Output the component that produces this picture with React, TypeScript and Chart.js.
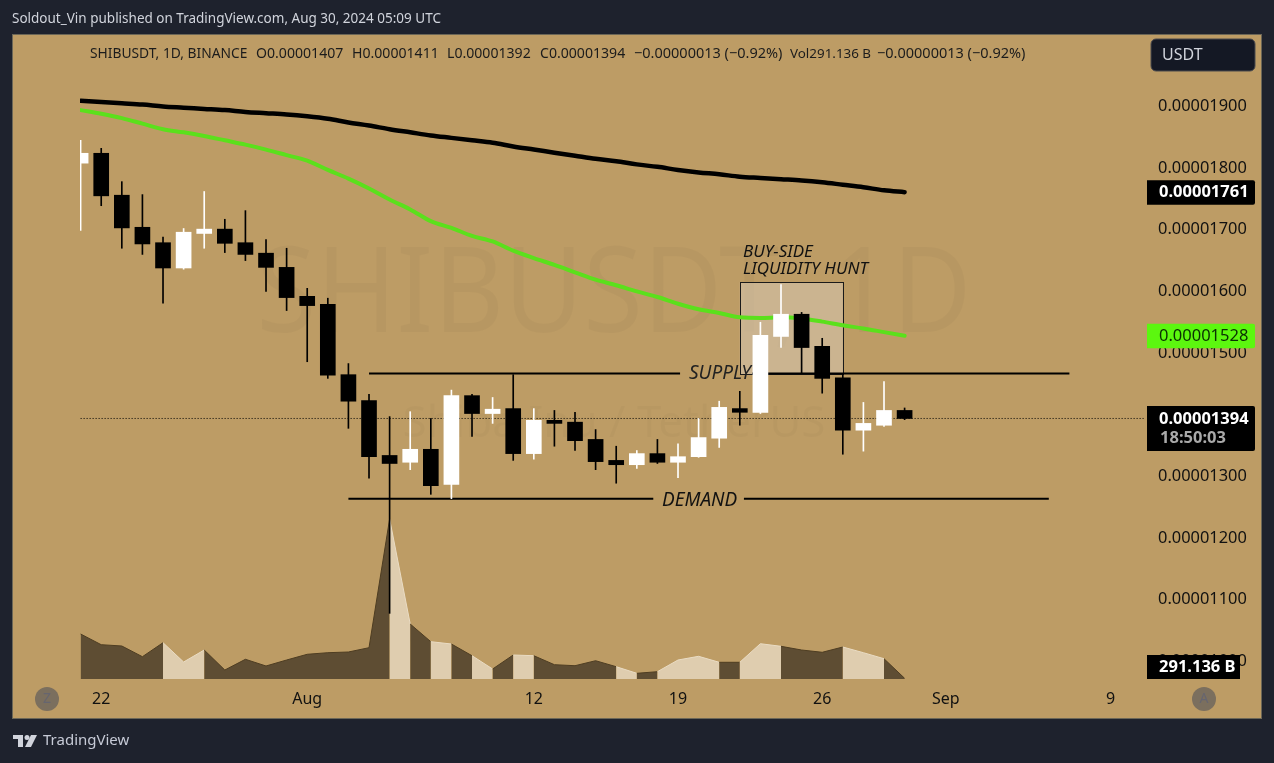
import React, { useEffect, useRef } from "react";
import { Chart, registerables } from "chart.js";

Chart.register(...registerables);

// prices are in units of 0.00000001 USDT
const opens = [1808,1824,1756,1704,1679,1638,1694,1701,1679,1662,1639,1592,1579,1465,1423,1334,1323,1344,1287,1431,1402,1410,1337,1391,1388,1360,1326,1319,1337,1323,1332,1362,1410,1404,1527,1563,1511,1460,1375,1383,1407];
const highs = [1845,1832,1778,1757,1688,1702,1762,1717,1731,1684,1670,1605,1589,1483,1433,1397,1405,1394,1440,1433,1428,1465,1410,1407,1404,1376,1349,1342,1360,1353,1394,1422,1438,1550,1611,1566,1524,1467,1420,1454,1411];
const lows = [1699,1739,1670,1660,1581,1636,1670,1663,1650,1600,1569,1486,1459,1378,1297,1078,1311,1271,1264,1365,1386,1326,1328,1349,1342,1311,1289,1313,1321,1298,1331,1347,1383,1402,1509,1467,1435,1336,1341,1381,1392];
const closes = [1824,1755,1703,1677,1638,1696,1701,1678,1660,1639,1590,1577,1464,1422,1332,1321,1344,1285,1431,1402,1409,1337,1391,1386,1358,1324,1319,1337,1323,1332,1363,1412,1404,1529,1563,1509,1459,1375,1386,1407,1394];
const ma200 = [1909,1907,1905,1903,1900,1898,1896,1894,1891,1889,1887,1884,1880,1874,1869,1863,1858,1853,1849,1845,1841,1835,1830,1825,1820,1815,1811,1806,1802,1797,1793,1790,1786,1784,1782,1780,1777,1773,1769,1764,1761];
const ma100 = [1894,1888,1881,1872,1863,1858,1852,1845,1838,1830,1821,1812,1797,1783,1767,1749,1733,1714,1703,1690,1681,1666,1654,1643,1631,1619,1610,1600,1591,1580,1571,1565,1558,1557,1558,1556,1551,1545,1540,1534,1528];
// volume in billions
const volumes = [18720,14270,13730,9280,15100,7070,12060,3740,8200,5410,7900,10280,10940,11230,13020,66560,22880,15520,14560,9690,4160,9980,9690,5950,5530,7610,5120,2370,3040,7900,9440,6950,6950,14680,13600,12060,11110,13310,10940,8440,291];

const priceTicks = [1900,1800,1700,1600,1500,1400,1300,1200,1100,1000];
const dateTickDays = [1,11,22,29,36,42,50];
const dateTickLabels = ["22","Aug","12","19","26","Sep","9"];

const lastPrice = 1394;
const supplyLevel = 1467;
const demandLevel = 1264;
const supplySpans = [[14,29.1],[32.6,48]];
const demandSpans = [[13,27.8],[32.2,47]];
const huntBox = { from: 32, to: 37, high: 1615, low: 1466 };

const titleText = "Soldout_Vin published on TradingView.com, Aug 30, 2024 05:09 UTC";
const legendParts: [string, number, number][] = [
  ["SHIBUSDT, 1D, BINANCE", 90, 13.8],
  ["O0.00001407", 256, 14.1],
  ["H0.00001411", 352, 14.1],
  ["L0.00001392", 447, 14.1],
  ["C0.00001394", 540, 14.1],
  ["−0.00000013 (−0.92%)", 634, 14.5],
  ["Vol291.136 B", 790, 13.4],
  ["−0.00000013 (−0.92%)", 877, 14.5],
];

const FONT = '"Noto Sans", sans-serif';
const FRAME = "#1e222d";
const PANEL = "#bd9c65";
const UP = "#ffffff";
const DOWN = "#000000";
const VOL_UP = "#dfcdaf";
const VOL_DOWN = "#5e4d33";

const isUp = (i: number) => closes[i] >= opens[i];
const fmt = (v: number) => (v / 1e8).toFixed(8);

function text(ctx: CanvasRenderingContext2D, s: string, x: number, y: number, font: string, color: string, align: CanvasTextAlign = "left") {
  ctx.font = font;
  ctx.fillStyle = color;
  ctx.textAlign = align;
  ctx.textBaseline = "middle";
  ctx.fillText(s, x, y);
}

const lineSet = (spans: number[], level: number) => ({
  type: "line" as const,
  data: [{ x: spans[0], y: level }, { x: spans[1], y: level }],
  borderColor: "#000",
  borderWidth: 2,
  pointRadius: 0,
  yAxisID: "y",
  order: 5,
});

const decor = {
  id: "decor",
  beforeDraw(chart: any) {
    const ctx: CanvasRenderingContext2D = chart.ctx;
    ctx.save();
    ctx.fillStyle = FRAME;
    ctx.fillRect(0, 0, 1274, 763);
    ctx.fillStyle = PANEL;
    ctx.fillRect(13, 35, 1248, 683);
    ctx.strokeStyle = "#6b6657";
    ctx.lineWidth = 1;
    ctx.strokeRect(12.5, 34.5, 1249, 684);
    ctx.save();
    ctx.translate(614, 298);
    ctx.scale(0.92, 1);
    text(ctx, "SHIBUSDT, 1D", 0, 0, `118px ${FONT}`, "rgba(0,0,0,0.028)", "center");
    ctx.restore();
    text(ctx, "Shiba Inu / TetherUS", 614, 424, `44px ${FONT}`, "rgba(0,0,0,0.022)", "center");
    ctx.restore();
  },
  beforeDatasetsDraw(chart: any) {
    const ctx: CanvasRenderingContext2D = chart.ctx;
    const { x, y } = chart.scales;
    const l = x.getPixelForValue(huntBox.from);
    const r = x.getPixelForValue(huntBox.to);
    const t = y.getPixelForValue(huntBox.high);
    const b = y.getPixelForValue(huntBox.low);
    ctx.save();
    ctx.fillStyle = "rgba(215,200,180,0.55)";
    ctx.fillRect(l, t, r - l, b - t);
    ctx.strokeStyle = "#1a1a1a";
    ctx.lineWidth = 1;
    ctx.strokeRect(Math.round(l) + 0.5, Math.round(t) + 0.5, Math.round(r - l), Math.round(b - t));
    const italic = `italic 17px ${FONT}`;
    text(ctx, "BUY-SIDE", 743, 252, italic, "#111");
    text(ctx, "LIQUIDITY HUNT", 743, 269, italic, "#111");
    const big = `italic 19px ${FONT}`;
    text(ctx, "SUPPLY", 689, 373.5, big, "#222");
    text(ctx, "DEMAND", 662, 500.5, big, "#111");
    ctx.restore();
  },
  afterDraw(chart: any) {
    const ctx: CanvasRenderingContext2D = chart.ctx;
    const y = chart.scales.y;
    const tagFont = `bold 16.5px ${FONT}`;
    ctx.save();

    // header texts
    text(ctx, titleText, 12, 19, `13.5px ${FONT}`, "#d1d4dc");
    legendParts.forEach(([s, px, size]) => text(ctx, s, px, 54, `${size}px ${FONT}`, "#1c1c1c"));

    // currency button
    ctx.beginPath();
    ctx.roundRect(1151, 39, 104, 32, 5);
    ctx.fillStyle = "#141824";
    ctx.fill();
    ctx.strokeStyle = "#4a4a4f";
    ctx.stroke();
    text(ctx, "USDT", 1162, 55, `16px ${FONT}`, "#d1d4dc");

    // price tags
    const tag = (value: number, fill: string, color: string, label: string, font: string) => {
      const c = y.getPixelForValue(value);
      ctx.beginPath();
      ctx.roundRect(1147, c - 12, 108, 24.5, [0, 2, 2, 0]);
      ctx.fillStyle = fill;
      ctx.fill();
      text(ctx, label, 1159, c + 0.5, font, color);
    };
    tag(ma200[ma200.length - 1], "#000", "#fff", fmt(ma200[ma200.length - 1]), tagFont);
    tag(ma100[ma100.length - 1], "#5cf70f", "#0a3003", fmt(ma100[ma100.length - 1]), `16.5px ${FONT}`);

    const c = y.getPixelForValue(lastPrice);
    ctx.beginPath();
    ctx.roundRect(1147, c - 12.5, 108, 45, [0, 2, 2, 0]);
    ctx.fillStyle = "#000";
    ctx.fill();
    text(ctx, fmt(lastPrice), 1159, c + 0.5, tagFont, "#fff");
    text(ctx, "18:50:03", 1160, c + 20, `bold 16.5px ${FONT}`, "#a9a9a9");

    ctx.fillStyle = "#000";
    ctx.fillRect(1147, 655, 93, 24);
    text(ctx, "291.136 B", 1159, 667, tagFont, "#fff");

    // scale buttons
    [["Z", 47], ["A", 1204]].forEach(([s, px]) => {
      ctx.beginPath();
      ctx.arc(px as number, 699, 12, 0, Math.PI * 2);
      ctx.fillStyle = "#7b6f5e";
      ctx.fill();
      text(ctx, s as string, px as number, 699.5, `14px ${FONT}`, "#66656f", "center");
    });

    // footer
    ctx.fillStyle = "#d1d4dc";
    ctx.fillRect(13, 735, 10, 4);
    ctx.fillRect(18, 735, 5, 12);
    ctx.beginPath();
    ctx.arc(27, 737.5, 2.5, 0, Math.PI * 2);
    ctx.fill();
    ctx.beginPath();
    ctx.moveTo(31, 735);
    ctx.lineTo(37, 735);
    ctx.lineTo(31, 747);
    ctx.lineTo(25, 747);
    ctx.closePath();
    ctx.fill();
    text(ctx, "TradingView", 43, 741, `15px ${FONT}`, "#c6cad6");
    ctx.restore();
  },
};

export default function App() {
  const ref = useRef<HTMLCanvasElement>(null);
  useEffect(() => {
    if (!ref.current) return;
    const days = opens.map((_, i) => i);
    const chart = new Chart(ref.current, {
      type: "bar",
      data: {
        datasets: [
          {
            type: "bar",
            data: days.map((i) => ({ x: i, y: [opens[i], closes[i]] })),
            backgroundColor: days.map((i) => (isUp(i) ? UP : DOWN)),
            barThickness: 15,
            grouped: false,
            borderWidth: 0,
            yAxisID: "y",
            order: 0,
          },
          {
            type: "bar",
            data: days.map((i) => ({ x: i, y: [lows[i], highs[i]] })),
            backgroundColor: days.map((i) => (isUp(i) ? UP : DOWN)),
            barThickness: 1,
            grouped: false,
            borderWidth: 0,
            yAxisID: "y",
            order: 1,
          },
          {
            type: "line",
            data: days.map((i) => ({ x: i, y: ma100[i] })),
            borderColor: "#5be01c",
            borderWidth: 4,
            pointRadius: 0,
            cubicInterpolationMode: "monotone",
            borderCapStyle: "round",
            yAxisID: "y",
            order: 2,
          },
          {
            type: "line",
            data: days.map((i) => ({ x: i, y: ma200[i] })),
            borderColor: "#000",
            borderWidth: 4.5,
            pointRadius: 0,
            cubicInterpolationMode: "monotone",
            borderCapStyle: "round",
            yAxisID: "y",
            order: 2,
          },
          {
            type: "line",
            data: days.map((i) => ({ x: i, y: volumes[i] })),
            fill: "origin",
            pointRadius: 0,
            borderWidth: 1,
            borderColor: VOL_DOWN,
            backgroundColor: VOL_DOWN,
            segment: {
              backgroundColor: (c: any) => (isUp(c.p1DataIndex) ? VOL_UP : VOL_DOWN),
              borderColor: (c: any) => (isUp(c.p1DataIndex) ? "#eadcc4" : "#4e3d22"),
            },
            yAxisID: "y1",
            order: 3,
          },
          lineSet(supplySpans[0], supplyLevel),
          lineSet(supplySpans[1], supplyLevel),
          lineSet(demandSpans[0], demandLevel),
          lineSet(demandSpans[1], demandLevel),
          {
            type: "line",
            data: [{ x: 0, y: lastPrice }, { x: 51.6, y: lastPrice }],
            borderColor: "#000",
            borderWidth: 1,
            borderDash: [1, 2],
            pointRadius: 0,
            yAxisID: "y",
            order: 6,
          },
        ] as any,
      },
      options: {
        animation: false,
        responsive: false,
        devicePixelRatio: 1,
        layout: { padding: { left: 80, top: 35, right: 13, bottom: 45 } },
        plugins: { legend: { display: false }, tooltip: { enabled: false } },
        events: [],
        scales: {
          x: {
            type: "linear",
            min: -0.03,
            max: 51.67,
            offset: false,
            grid: { display: false, drawTicks: false },
            border: { display: false },
            afterBuildTicks: (s: any) => {
              s.ticks = dateTickDays.map((value) => ({ value }));
            },
            afterFit: (s: any) => {
              s.height = 33;
            },
            ticks: {
              padding: 5,
              autoSkip: false,
              maxRotation: 0,
              color: "#111",
              font: { family: FONT, size: 16 },
              callback: (v: any) => dateTickLabels[dateTickDays.indexOf(Number(v))] ?? "",
            },
          },
          y: {
            type: "linear",
            position: "right",
            min: 961.8,
            max: 2015.8,
            grid: { display: false, drawTicks: false },
            border: { display: false },
            afterBuildTicks: (s: any) => {
              s.ticks = priceTicks.map((value) => ({ value }));
            },
            afterFit: (s: any) => {
              s.width = 116;
            },
            ticks: {
              padding: 13,
              autoSkip: false,
              color: "#111",
              font: { family: FONT, size: 16.4 },
              callback: (v: any) => fmt(Number(v)),
            },
          },
          y1: {
            type: "linear",
            display: false,
            min: -2496,
            max: 267904,
          },
        },
      } as any,
      plugins: [decor],
    });
    return () => chart.destroy();
  }, []);
  return (
    <canvas
      ref={ref}
      width={1274}
      height={763}
      style={{ position: "absolute", left: 0, top: 0, display: "block", width: 1274, height: 763 }}
    />
  );
}
